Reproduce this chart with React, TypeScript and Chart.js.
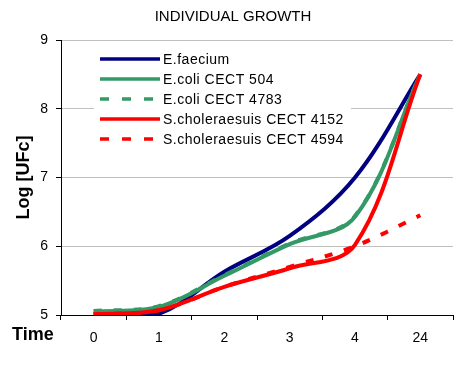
import React, { useEffect, useRef } from 'react';
import { Chart, registerables } from 'chart.js';

Chart.register(...registerables);

// ---- data ----
const timeLabels = ['0', '1', '2', '3', '4', '24'];
const eFaecium = [5.01, 5.02, 5.63, 6.15, 7.0, 8.5];
const eColi504 = [5.05, 5.12, 5.57, 6.03, 6.43, 8.5];
const eColi4783 = [5.06, 5.13, 5.58, 6.04, 6.44, 8.5];
const sChol4152 = [5.01, 5.07, 5.41, 5.68, 6.02, 8.5];
const sChol4594 = [5.01, 5.07, 5.41, 5.7, 6.0, 6.45];
const seriesNames = [
  'E.faecium',
  'E.coli CECT 504',
  'E.coli CECT 4783',
  'S.choleraesuis CECT 4152',
  'S.choleraesuis CECT 4594',
];
const yMin = 5;
const yMax = 9;

const FONT = '"Liberation Sans", Arial, sans-serif';
const NAVY = '#000080';
const GREEN = '#339966';
const RED = '#ff0000';

const customText = {
  id: 'customText',
  beforeDatasetsDraw(chart: any) {
    const ctx = chart.ctx;
    ctx.save();
    // legend background
    ctx.fillStyle = '#ffffff';
    ctx.fillRect(94, 45, 257, 106);
    chart.data.datasets.forEach((ds: any, i: number) => {
      const y = 59 + i * 20;
      ctx.beginPath();
      ctx.strokeStyle = ds.borderColor;
      ctx.lineWidth = 3.5;
      ctx.setLineDash(ds.borderDash && ds.borderDash.length ? [9, 13] : []);
      ctx.moveTo(100, y);
      ctx.lineTo(160, y);
      ctx.stroke();
      ctx.setLineDash([]);
      ctx.fillStyle = '#000';
      ctx.font = `14px ${FONT}`;
      (ctx as any).letterSpacing = '0.5px';
      ctx.textAlign = 'left';
      ctx.textBaseline = 'alphabetic';
      ctx.fillText(ds.label, 163, y + 5);
    });
    ctx.restore();
  },
  afterDraw(chart: any) {
    const ctx = chart.ctx;
    ctx.save();
    ctx.fillStyle = '#000';
    ctx.font = `bold 18px ${FONT}`;
    ctx.textAlign = 'left';
    ctx.textBaseline = 'alphabetic';
    ctx.fillText('Time', 12, 340);
    ctx.restore();
  },
};

export default function App() {
  const ref = useRef<HTMLCanvasElement | null>(null);

  useEffect(() => {
    if (!ref.current) return;
    const chart = new Chart(ref.current, {
      type: 'line',
      data: {
        labels: timeLabels,
        datasets: [
          { label: seriesNames[0], data: eFaecium, borderColor: NAVY, borderWidth: 4, order: 4 },
          { label: seriesNames[1], data: eColi504, borderColor: GREEN, borderWidth: 4, order: 2 },
          { label: seriesNames[2], data: eColi4783, borderColor: GREEN, borderWidth: 4, borderDash: [8, 12], order: 3 },
          { label: seriesNames[3], data: sChol4152, borderColor: RED, borderWidth: 4, order: 0 },
          { label: seriesNames[4], data: sChol4594, borderColor: RED, borderWidth: 4, borderDash: [8, 12], order: 1 },
        ].map((d) => ({
          ...d,
          pointRadius: 0,
          pointHoverRadius: 0,
          tension: 0.35,
          fill: false,
          backgroundColor: d.borderColor,
        })),
      },
      options: {
        responsive: false,
        animation: false,
        devicePixelRatio: 1,
        layout: { padding: { left: 13, right: 21, top: 0, bottom: 0 } },
        plugins: {
          legend: { display: false },
          tooltip: { enabled: false },
          title: {
            display: true,
            text: 'INDIVIDUAL GROWTH',
            color: '#000',
            font: { family: FONT, size: 15, weight: 'normal' },
            padding: { top: 8, bottom: 14 },
          },
        },
        scales: {
          x: {
            type: 'category',
            offset: true,
            grid: {
              offset: true,
              drawOnChartArea: false,
              drawTicks: true,
              tickLength: 5,
              tickColor: '#000',
              color: '#000',
            },
            border: { color: '#000', width: 1 },
            ticks: {
              color: '#000',
              font: { family: FONT, size: 14 },
              padding: 10,
              maxRotation: 0,
            },
            afterFit(scale: any) {
              scale.height = 51;
            },
          },
          y: {
            min: yMin,
            max: yMax,
            grid: { color: '#c0c0c0', tickColor: '#000', tickLength: 5 },
            border: { color: '#000', width: 1 },
            ticks: {
              stepSize: 1,
              color: '#000',
              font: { family: FONT, size: 14 },
              padding: 8,
            },
            title: {
              display: true,
              text: 'Log [UFc]',
              color: '#000',
              font: { family: FONT, size: 18, weight: 'bold' },
              padding: 0,
            },
            afterFit(scale: any) {
              scale.width = 48;
            },
          },
        },
      },
      plugins: [customText],
    });
    return () => chart.destroy();
  }, []);

  return (
    <div style={{ position: 'fixed', left: 0, top: 0, width: 474, height: 366, background: '#fff' }}>
      <canvas ref={ref} width={474} height={366} style={{ display: 'block' }} />
    </div>
  );
}
